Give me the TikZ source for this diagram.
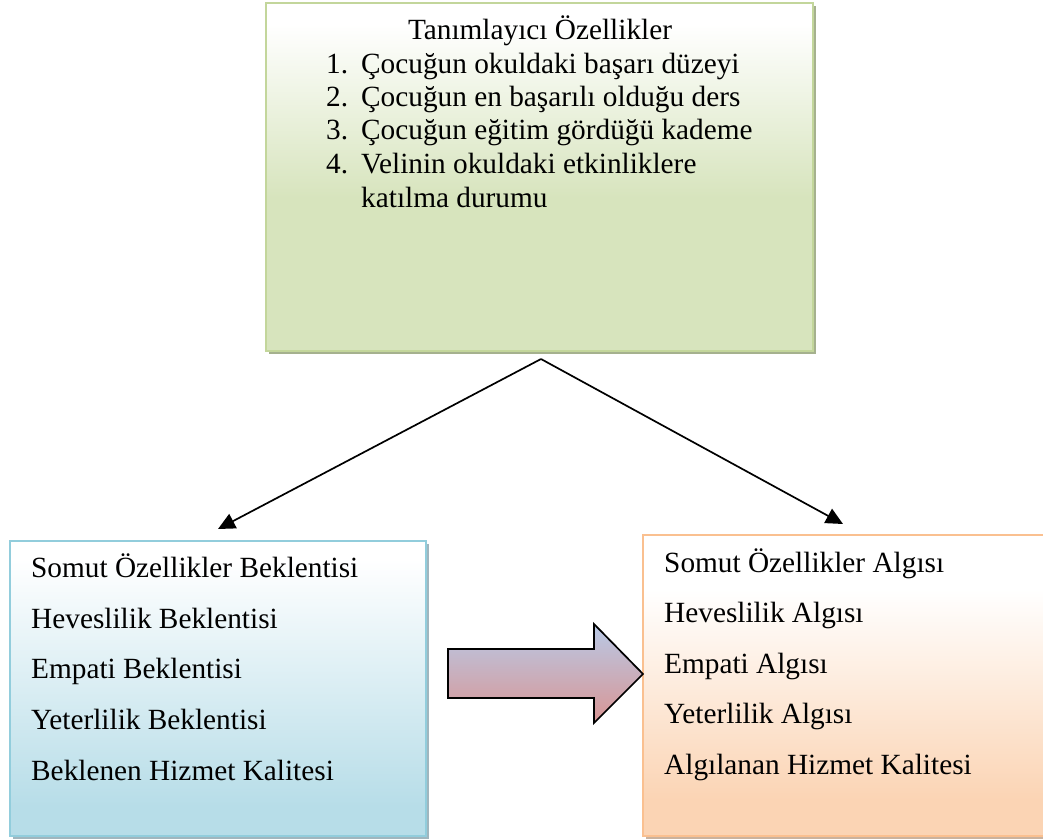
\documentclass[tikz,border=0pt]{standalone}
\usepackage{fontspec}
\setmainfont{Liberation Serif}
\usetikzlibrary{arrows.meta,shadows}

% palette
\definecolor{grfill}{HTML}{D7E4BD}
\definecolor{grline}{HTML}{C3D69B}
\definecolor{grshadow}{HTML}{A5B18E}
\definecolor{blfill}{HTML}{B7DDE8}
\definecolor{blline}{HTML}{92CDDC}
\definecolor{blshadow}{HTML}{A0B6BE}
\definecolor{orfill}{HTML}{FBD4B4}
\definecolor{orline}{HTML}{FAC090}
\definecolor{orshadow}{HTML}{CBB29D}
\definecolor{arrtop}{HTML}{B8C9E6}
\definecolor{arrbot}{HTML}{D99594}

% vertical fades (0bp = bottom, 100bp = top; the box spans 25bp..75bp)
\pgfdeclareverticalshading{greenfade}{100bp}{color(0bp)=(grfill); color(25bp)=(grfill); color(47bp)=(grfill); color(72bp)=(white); color(100bp)=(white)}
\pgfdeclareverticalshading{bluefade}{100bp}{color(0bp)=(blfill); color(25bp)=(blfill); color(30bp)=(blfill); color(72bp)=(white); color(100bp)=(white)}
\pgfdeclareverticalshading{orangefade}{100bp}{color(0bp)=(orfill); color(25bp)=(orfill); color(31bp)=(orfill); color(66bp)=(white); color(100bp)=(white)}

\tikzset{
  box/.style={draw, line width=2pt, anchor=north west, inner sep=0pt},
  greenbox/.style={box, draw=grline, shading=greenfade,
    drop shadow={shadow xshift=3pt, shadow yshift=-3pt, fill=grshadow, opacity=1}},
  bluebox/.style={box, draw=blline, shading=bluefade,
    drop shadow={shadow xshift=3pt, shadow yshift=-3pt, fill=blshadow, opacity=1}},
  orangebox/.style={box, draw=orline, shading=orangefade,
    drop shadow={shadow xshift=3pt, shadow yshift=-3pt, fill=orshadow, opacity=1}},
  txt/.style={inner sep=0pt, anchor=base west, font=\fontsize{29.3}{33}\selectfont},
  conn/.style={line width=1.7pt, -{Triangle[length=17pt,width=16pt]}},
  bigarrow/.style={draw=black, line width=1.7pt, line join=miter,
    top color=arrtop, bottom color=arrbot}
}

\begin{document}
\begin{tikzpicture}[x=1pt, y=-1pt]
\useasboundingbox (0,0) rectangle (1043,839);

% boxes
\node[greenbox, minimum width=547pt, minimum height=348pt] (desc) at (265,2) {};
\node[bluebox, minimum width=416pt, minimum height=295pt] (expect) at (9,540) {};
\node[orangebox, minimum width=406pt, minimum height=301pt] (percep) at (642,534) {};

% descriptive characteristics
\node[txt, anchor=base] (title) at (540,39) {Tanımlayıcı Özellikler};
\node[txt] (n1) at (326,73) {1.};
\node[txt] (i1) at (361,73) {Çocuğun okuldaki başarı düzeyi};
\node[txt] (n2) at (326,106) {2.};
\node[txt] (i2) at (361,106) {Çocuğun en başarılı olduğu ders};
\node[txt] (n3) at (326,139) {3.};
\node[txt] (i3) at (361,139) {Çocuğun eğitim gördüğü kademe};
\node[txt] (n4) at (326,173) {4.};
\node[txt] (i4) at (361,173) {Velinin okuldaki etkinliklere};
\node[txt] (i4b) at (361,207) {katılma durumu};

% expectations
\node[txt] (e1) at (31,577) {Somut Özellikler Beklentisi};
\node[txt] (e2) at (31,628) {Heveslilik Beklentisi};
\node[txt] (e3) at (31,678) {Empati Beklentisi};
\node[txt] (e4) at (31,729) {Yeterlilik Beklentisi};
\node[txt] (e5) at (31,780) {Beklenen Hizmet Kalitesi};

% perceptions
\node[txt] (p1) at (664,572) {Somut Özellikler Algısı};
\node[txt] (p2) at (664,622) {Heveslilik Algısı};
\node[txt] (p3) at (664,673) {Empati Algısı};
\node[txt] (p4) at (664,723) {Yeterlilik Algısı};
\node[txt] (p5) at (664,774) {Algılanan Hizmet Kalitesi};

% connectors from the descriptive box
\coordinate (apex) at ([xshift=1.5pt, yshift=-7pt]desc.south);
\coordinate (ltip) at ([yshift=11pt]expect.north -| 218,0);
\coordinate (rtip) at ([yshift=10pt]percep.north -| 843,0);
\draw[conn] (apex) -- (ltip);
\draw[conn] (apex) -- (rtip);

% block arrow from expectations to perceptions
\path[bigarrow] (448,649) -- (594,649) -- (594,624) -- (643,674)
  -- (594,723) -- (594,698) -- (448,698) -- cycle;
\end{tikzpicture}
\end{document}
